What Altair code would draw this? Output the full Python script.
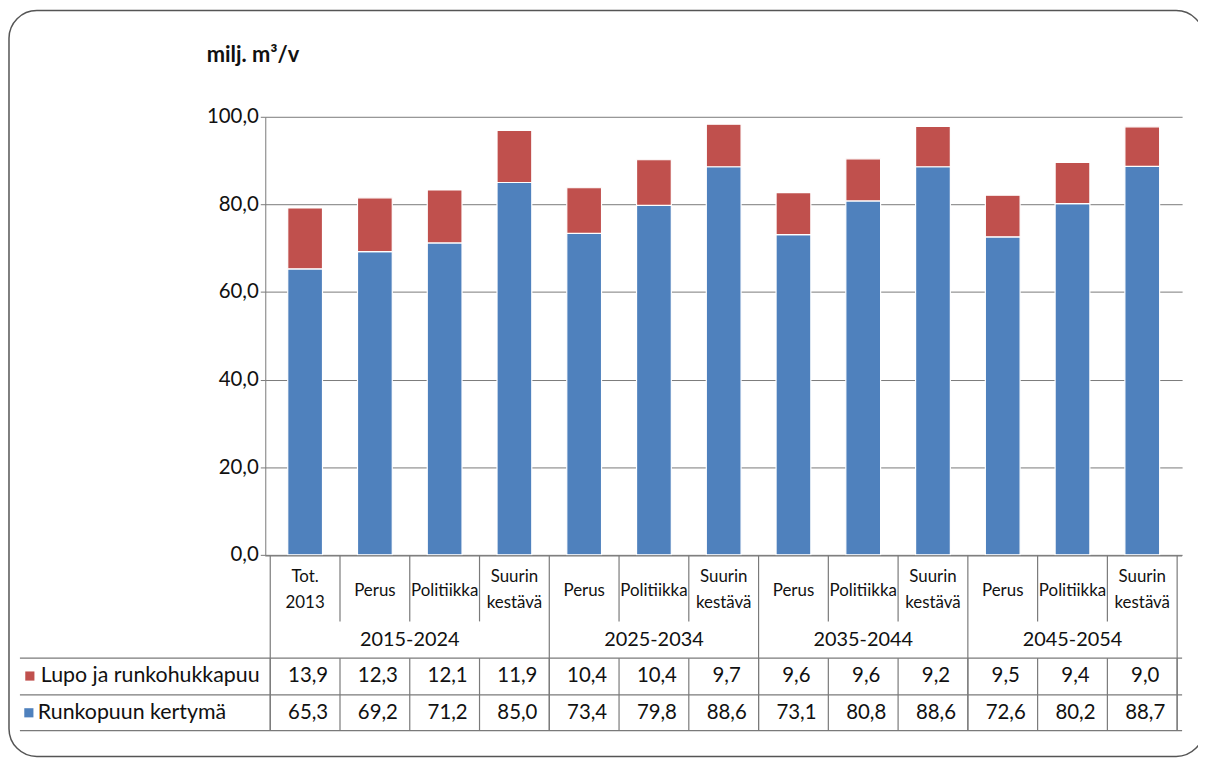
import altair as alt
import pandas as pd

# ---- data ----
cat_labels = ["Tot.\n2013", "Perus", "Politiikka", "Suurin\nkestävä",
              "Perus", "Politiikka", "Suurin\nkestävä",
              "Perus", "Politiikka", "Suurin\nkestävä",
              "Perus", "Politiikka", "Suurin\nkestävä"]
col_group = ["2015-2024"] * 4 + ["2025-2034"] * 3 + ["2035-2044"] * 3 + ["2045-2054"] * 3
runko = [65.3, 69.2, 71.2, 85.0, 73.4, 79.8, 88.6, 73.1, 80.8, 88.6, 72.6, 80.2, 88.7]
lupo = [13.9, 12.3, 12.1, 11.9, 10.4, 10.4, 9.7, 9.6, 9.6, 9.2, 9.5, 9.4, 9.0]
series = ["Lupo ja runkohukkapuu", "Runkopuun kertymä"]
colors = ["#C0504D", "#4F81BD"]
y_ticks = [0, 20, 40, 60, 80, 100]
y_title = "milj. m³/v"

n = len(cat_labels)
W, H = 923, 441
FONT = "Lato"
LINE = "#7a7a7a"
TXT = "#111111"

def fi(v):
    return f"{v:.1f}".replace(".", ",")

cols = pd.DataFrame({
    "idx": list(range(n)),
    "label": cat_labels,
    "group": col_group,
    "runko": runko,
    "lupo": lupo,
})
cols["pos"] = cols["idx"] + 0.5
cols["runko_t"] = [fi(v) for v in runko]
cols["lupo_t"] = [fi(v) for v in lupo]
parts = [s.split("\n") for s in cat_labels]
cols["l1"] = [p[0] for p in parts]
cols["l2"] = [p[1] if len(p) > 1 else "" for p in parts]
cols["lines"] = [len(p) for p in parts]

long = pd.concat([
    pd.DataFrame({"pos": cols["pos"], "series": series[1], "value": runko, "ord": 0}),
    pd.DataFrame({"pos": cols["pos"], "series": series[0], "value": lupo, "ord": 1}),
])

grp = cols.groupby("group", sort=False).agg(start=("idx", "min"), end=("idx", "max")).reset_index()
grp["center"] = (grp["start"] + grp["end"] + 1) / 2
bounds_group = pd.DataFrame({"b": list(grp["start"]) + [n]})
inner = pd.DataFrame({"b": [i for i in range(1, n) if i not in list(grp["start"])]})
all_b = pd.DataFrame({"b": list(range(0, n + 1))})

xs = alt.Scale(domain=[0, n], nice=False, zero=False)
one = pd.DataFrame({"k": [0]})
cscale = alt.Scale(domain=series, range=colors)

bars = alt.Chart(long).mark_bar(width=35, stroke="white", strokeWidth=1.2).encode(
    x=alt.X("pos:Q", scale=xs, axis=None),
    y=alt.Y("value:Q", stack="zero",
            scale=alt.Scale(domain=[0, 100], nice=False),
            axis=alt.Axis(values=y_ticks, title=None, grid=True, gridColor=LINE,
                          domainColor=LINE, tickColor=LINE, tickSize=5,
                          labelFontSize=20.5, labelFont=FONT, labelColor=TXT,
                          labelPadding=2,
                          labelExpr="replace(format(datum.value, '.1f'), '.', ',')")),
    color=alt.Color("series:N", scale=cscale, legend=None),
    order=alt.Order("ord:Q"),
)

# table header labels
hdr_style = dict(font=FONT, fontSize=17, baseline="middle", color=TXT)
hdr_single = alt.Chart(cols).transform_filter("datum.lines == 1").mark_text(**hdr_style).encode(
    x=alt.X("pos:Q", scale=xs), y=alt.value(477), text="l1:N")
hdr_first = alt.Chart(cols).transform_filter("datum.lines == 2").mark_text(**hdr_style).encode(
    x=alt.X("pos:Q", scale=xs), y=alt.value(463), text="l1:N")
hdr_second = alt.Chart(cols).transform_filter("datum.lines == 2").mark_text(**hdr_style).encode(
    x=alt.X("pos:Q", scale=xs), y=alt.value(490), text="l2:N")

grp_text = alt.Chart(grp).mark_text(font=FONT, fontSize=20, baseline="middle", color=TXT).encode(
    x=alt.X("center:Q", scale=xs), y=alt.value(527), text="group:N")

num_style = dict(font=FONT, fontSize=20.5, baseline="middle", color=TXT, dx=3)
row1 = alt.Chart(cols).mark_text(**num_style).encode(
    x=alt.X("pos:Q", scale=xs), y=alt.value(563), text="lupo_t:N")
row2 = alt.Chart(cols).mark_text(**num_style).encode(
    x=alt.X("pos:Q", scale=xs), y=alt.value(600), text="runko_t:N")

# grid lines of the table
top_line = alt.Chart(one).mark_rule(color=LINE, strokeWidth=1.2).encode(
    x=alt.value(0), x2=alt.value(W), y=alt.value(442))
h_lines = [alt.Chart(one).mark_rule(color=LINE, strokeWidth=1.2).encode(
    x=alt.value(-247), x2=alt.value(W), y=alt.value(yv)) for yv in (545, 582, 618)]
v_inner = alt.Chart(inner).mark_rule(color=LINE, strokeWidth=1.2).encode(
    x=alt.X("b:Q", scale=xs), y=alt.value(442), y2=alt.value(508))
v_data = alt.Chart(all_b).mark_rule(color=LINE, strokeWidth=1.2).encode(
    x=alt.X("b:Q", scale=xs), y=alt.value(545), y2=alt.value(618))
v_group = alt.Chart(bounds_group).mark_rule(color=LINE, strokeWidth=1.2).encode(
    x=alt.X("b:Q", scale=xs), y=alt.value(442), y2=alt.value(618))

# legend cells on the left
leg_df = pd.DataFrame({"series": series})
sq1 = alt.Chart(leg_df.iloc[[0]]).mark_square(size=85, opacity=1, filled=True).encode(
    x=alt.value(-237), y=alt.value(563),
    color=alt.Color("series:N", scale=cscale, legend=None))
sq2 = alt.Chart(leg_df.iloc[[1]]).mark_square(size=85, opacity=1, filled=True).encode(
    x=alt.value(-238), y=alt.value(600),
    color=alt.Color("series:N", scale=cscale, legend=None))
leg_style = dict(font=FONT, fontSize=21.5, align="left", baseline="middle", color=TXT)
lt1 = alt.Chart(leg_df.iloc[[0]]).mark_text(**leg_style).encode(
    x=alt.value(-226), y=alt.value(563), text="series:N")
lt2 = alt.Chart(leg_df.iloc[[1]]).mark_text(**leg_style).encode(
    x=alt.value(-229), y=alt.value(600), text="series:N")

title = alt.Chart(pd.DataFrame({"t": [y_title]})).mark_text(
    font=FONT, fontSize=22, fontWeight="bold", align="left", baseline="middle", color=TXT).encode(
    x=alt.value(-59), y=alt.value(-62), text="t:N")

border = alt.Chart(one).mark_rect(cornerRadius=28, fill="transparent", stroke="#555",
                                  strokeWidth=1.5).encode(
    x=alt.value(-258), x2=alt.value(945), y=alt.value(-107), y2=alt.value(644))

chart = alt.layer(
    border, bars, top_line, *h_lines, v_inner, v_data, v_group,
    hdr_single, hdr_first, hdr_second, grp_text, row1, row2, sq1, sq2, lt1, lt2, title,
).resolve_scale(color="shared").properties(
    width=W, height=H,
    autosize=alt.AutoSizeParams(type="none"),
    padding={"left": 259, "top": 107, "right": 16, "bottom": 204},
    background="white",
).configure_view(stroke=None)

chart.save("out.html", embed_options={"renderer": "svg", "actions": False})
